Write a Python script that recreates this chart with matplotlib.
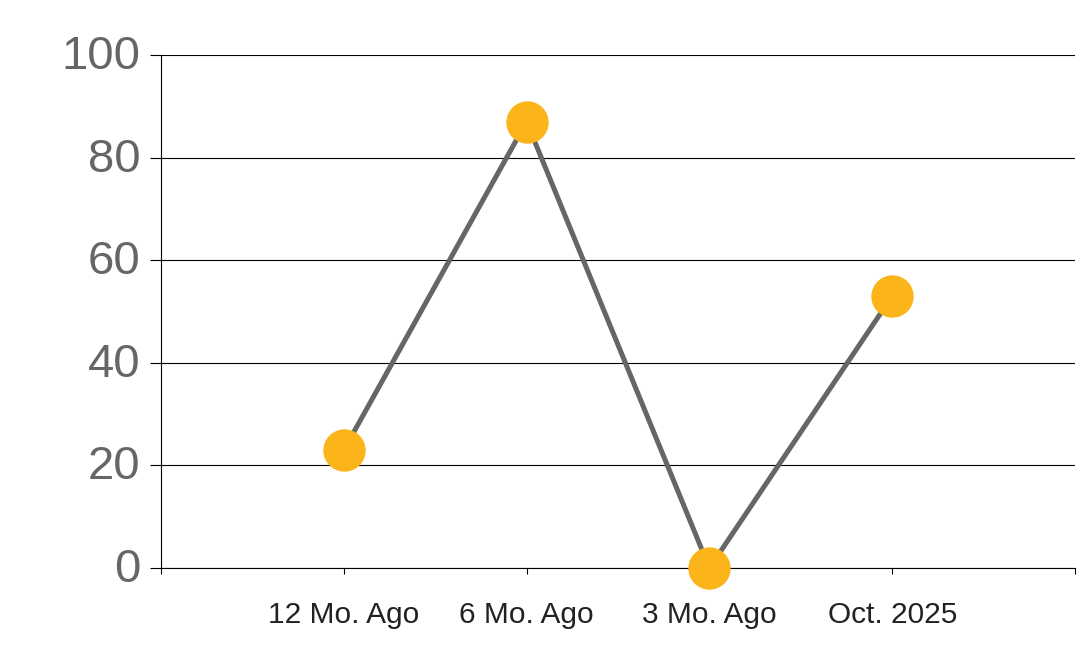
import matplotlib
matplotlib.use("Agg")
import matplotlib.pyplot as plt
from matplotlib.transforms import ScaledTranslation

categories = ["12 Mo. Ago", "6 Mo. Ago", "3 Mo. Ago", "Oct. 2025"]
values = [23, 87, 0, 53]
y_ticks = [0, 20, 40, 60, 80, 100]

plt.rcParams['font.family'] = ['Liberation Sans', 'DejaVu Sans']

W, H = 1078, 663
fig = plt.figure(figsize=(W / 100, H / 100), dpi=100)
ax = fig.add_axes([161 / W, (H - 568) / H, (1075 - 161) / W, (568 - 55) / H])

x = list(range(1, len(categories) + 1))
ax.plot(x, values, color="#666666", linewidth=3.6, zorder=3, clip_on=False)
ax.plot(x, values, linestyle="none", marker="o", markersize=29.5,
        markerfacecolor="#FBB41A", markeredgecolor="#FBB41A", zorder=4, clip_on=False)

ax.set_xlim(0, len(categories) + 1)
ax.set_ylim(0, 100)
ax.set_yticks(y_ticks)
ax.set_yticklabels([str(v) for v in y_ticks], fontsize=34, color="#666666")
ax.set_xticks(range(0, len(categories) + 2))
ax.set_xticklabels([""] + categories + [""], fontsize=21.5, color="#222222")

ax.yaxis.grid(True, color="black", linewidth=0.8)
ax.set_axisbelow(True)
for s in ["top", "right"]:
    ax.spines[s].set_visible(False)
for s in ["left", "bottom"]:
    ax.spines[s].set_color("black")
    ax.spines[s].set_linewidth(0.8)

ax.tick_params(axis="y", length=8, width=0.8, color="black", pad=7)
ax.tick_params(axis="x", length=4.3, width=0.8, color="black", pad=19.5)

shift = ScaledTranslation(0, 3 / 100, fig.dpi_scale_trans)
for lbl in ax.get_yticklabels():
    lbl.set_transform(lbl.get_transform() + shift)

fig.savefig("out.png", dpi=100)
